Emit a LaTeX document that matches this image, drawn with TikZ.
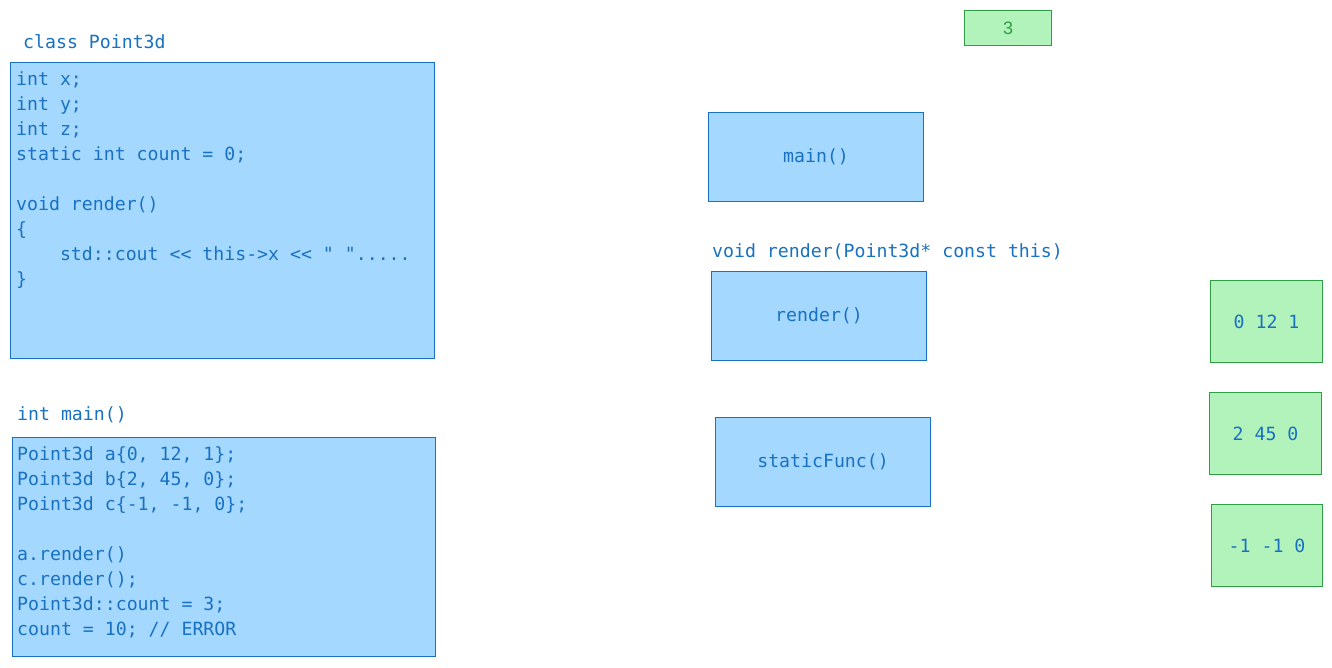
\documentclass[tikz,border=0pt]{standalone}
\usepackage{fontspec}
\setmonofont{DejaVu Sans Mono}
\newfontfamily\numfont{Liberation Sans}
\definecolor{bfill}{HTML}{A5D8FF}
\definecolor{bline}{HTML}{1971C2}
\definecolor{gfill}{HTML}{B2F2BB}
\definecolor{gline}{HTML}{2F9E44}
\tikzset{
  codefont/.style={font=\ttfamily\fontsize{18.2}{25}\selectfont},
  bluebox/.style={draw=bline, fill=bfill, line width=1.1pt, inner sep=0pt, anchor=north west, text=bline, codefont},
  greenbox/.style={draw=gline, fill=gfill, line width=1.1pt, inner sep=0pt, anchor=north west, text=bline, codefont},
  codetext/.style={text=bline, inner sep=0pt, anchor=base west, align=left, codefont},
}
\begin{document}
\begin{tikzpicture}[x=1pt,y=-1pt]
\useasboundingbox (0,0) rectangle (1332,667);
% class box
\node[codetext] (classlbl) at (23,48) {class Point3d};
\node[bluebox, minimum width=424pt, minimum height=296pt] (classbox) at (10,62) {};
\node[codetext] (classcode) at (16,285) {int x;\\int y;\\int z;\\static int count = 0;\\[25pt]void render()\\\{\\\phantom{void}std::cout << this->x << " ".....\\\}};
% main box
\node[codetext] (mainlbl) at (17,420) {int main()};
\node[bluebox, minimum width=423pt, minimum height=219pt] (mainbox) at (12,437) {};
\node[codetext] (maincode) at (17,635) {Point3d a\{0, 12, 1\};\\Point3d b\{2, 45, 0\};\\Point3d c\{-1, -1, 0\};\\[25pt]a.render()\\c.render();\\Point3d::count = 3;\\count = 10; // ERROR};
% right column
\node[greenbox, minimum width=87pt, minimum height=35pt, text=gline, font=\numfont\fontsize{18}{22}\selectfont] (three) at (964,10) {3};
\node[bluebox, minimum width=215pt, minimum height=89pt] (mainfn) at (708,112) {main()};
\node[codetext] (renderlbl) at (712,257) {void render(Point3d* const this)};
\node[bluebox, minimum width=215pt, minimum height=89pt] (renderfn) at (711,271) {render()};
\node[bluebox, minimum width=215pt, minimum height=89pt] (staticfn) at (715,417) {staticFunc()};
\node[greenbox, minimum width=112pt, minimum height=82pt] (pa) at (1210,280) {0 12 1};
\node[greenbox, minimum width=112pt, minimum height=82pt] (pb) at (1209,392) {2 45 0};
\node[greenbox, minimum width=111pt, minimum height=82pt] (pc) at (1211,504) {-1 -1 0};
\end{tikzpicture}
\end{document}
